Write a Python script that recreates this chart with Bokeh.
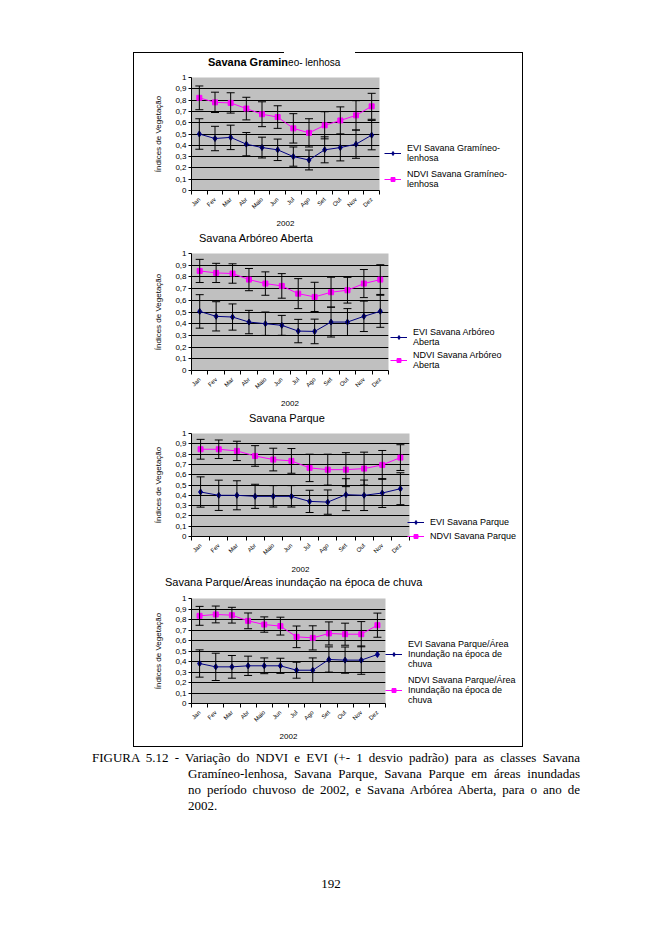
import math
from bokeh.plotting import figure
from bokeh.models import (ColumnDataSource, Whisker, TeeHead, FixedTicker, Legend,
                          LegendItem, Div, Range1d)
from bokeh.layouts import column
from bokeh.embed import file_html
from bokeh.resources import INLINE

months = ["Jan", "Fev", "Mar", "Abr", "Maio", "Jun", "Jul", "Ago", "Set", "Out", "Nov", "Dez"]
y_ticks = [0, 0.1, 0.2, 0.3, 0.4, 0.5, 0.6, 0.7, 0.8, 0.9, 1]
y_tick_labels = ["0", "0,1", "0,2", "0,3", "0,4", "0,5", "0,6", "0,7", "0,8", "0,9", "1"]
x_title = "2002"
y_title = "Índices de Vegetação"

# Savana Gramíneo-lenhosa
c1_evi = [0.50, 0.46, 0.47, 0.41, 0.38, 0.36, 0.30, 0.27, 0.36, 0.38, 0.41, 0.49]
c1_evi_sd = [0.135, 0.108, 0.108, 0.103, 0.092, 0.095, 0.085, 0.088, 0.115, 0.118, 0.125, 0.13]
c1_ndvi = [0.82, 0.78, 0.775, 0.725, 0.675, 0.65, 0.55, 0.51, 0.577, 0.62, 0.665, 0.745]
c1_ndvi_sd = [0.105, 0.09, 0.09, 0.10, 0.11, 0.10, 0.13, 0.125, 0.12, 0.12, 0.13, 0.115]

# Savana Arbóreo Aberta
c2_evi = [0.505, 0.463, 0.457, 0.414, 0.40, 0.386, 0.337, 0.334, 0.414, 0.414, 0.463, 0.506]
c2_evi_sd = [0.143, 0.125, 0.112, 0.10, 0.10, 0.085, 0.10, 0.105, 0.128, 0.115, 0.13, 0.137]
c2_ndvi = [0.851, 0.834, 0.829, 0.777, 0.743, 0.723, 0.657, 0.629, 0.669, 0.686, 0.743, 0.777]
c2_ndvi_sd = [0.099, 0.082, 0.083, 0.095, 0.10, 0.105, 0.128, 0.125, 0.128, 0.11, 0.12, 0.127]

# Savana Parque
c3_evi = [0.432, 0.40, 0.40, 0.39, 0.39, 0.39, 0.341, 0.334, 0.406, 0.40, 0.422, 0.464]
c3_evi_sd = [0.147, 0.147, 0.141, 0.117, 0.104, 0.104, 0.108, 0.118, 0.155, 0.148, 0.14, 0.155]
c3_ndvi = [0.847, 0.847, 0.831, 0.782, 0.747, 0.734, 0.666, 0.649, 0.649, 0.659, 0.695, 0.766]
c3_ndvi_sd = [0.096, 0.09, 0.094, 0.10, 0.11, 0.12, 0.133, 0.15, 0.165, 0.16, 0.14, 0.125]

# Savana Parque / Áreas inundação na época de chuva
c4_evi = [0.381, 0.349, 0.349, 0.359, 0.359, 0.359, 0.317, 0.317, 0.419, 0.413, 0.413, 0.467]
c4_evi_sd = [0.13, 0.13, 0.108, 0.092, 0.075, 0.072, 0.076, 0.117, 0.12, 0.125, 0.135, None]
c4_ndvi = [0.835, 0.848, 0.841, 0.787, 0.752, 0.737, 0.635, 0.625, 0.667, 0.66, 0.66, 0.746]
c4_ndvi_sd = [0.09, 0.08, 0.075, 0.075, 0.073, 0.085, 0.103, 0.115, 0.11, 0.105, 0.12, 0.115]

FONT = "Liberation Sans"
EVI_COLOR = "#000080"
NDVI_COLOR = "#ff00ff"


def whisker_for(p, xs, ys, sds):
    xx, up, lo = [], [], []
    for x, y, s in zip(xs, ys, sds):
        if s is None:
            continue
        xx.append(x)
        up.append(y + s)
        lo.append(y - s)
    src = ColumnDataSource(dict(x=xx, upper=up, lower=lo))
    w = Whisker(source=src, base="x", upper="upper", lower="lower",
                line_color="black", line_width=1,
                upper_head=TeeHead(size=8, line_color="black", line_width=1),
                lower_head=TeeHead(size=8, line_color="black", line_width=1))
    w.level = "overlay"
    p.add_layout(w)


def make_chart(evi, evi_sd, ndvi, ndvi_sd, evi_label, ndvi_label,
               fw, fh, ml, mr, mt, mb, legend_loc, legend_spacing):
    p = figure(frame_width=fw, frame_height=fh, x_range=Range1d(0, 12), y_range=Range1d(0, 1),
               output_backend="svg", toolbar_location=None,
               min_border_left=ml, min_border_right=mr, min_border_top=mt, min_border_bottom=mb,
               background_fill_color="#c0c0c0", outline_line_color=None,
               border_fill_color=None)
    xs = [i + 0.5 for i in range(len(months))]

    p.xgrid.visible = False
    p.ygrid.ticker = FixedTicker(ticks=y_ticks)
    p.ygrid.grid_line_color = "black"
    p.ygrid.grid_line_width = 1

    ya = p.yaxis[0]
    ya.ticker = FixedTicker(ticks=y_ticks)
    ya.major_label_overrides = {t: l for t, l in zip(y_ticks, y_tick_labels)}
    ya.axis_line_color = "black"
    ya.major_tick_line_color = "black"
    ya.major_tick_out = 3
    ya.major_tick_in = 0
    ya.minor_tick_line_color = None
    ya.major_label_text_font = FONT
    ya.major_label_text_font_size = "8px"
    ya.major_label_text_color = "black"
    ya.major_label_standoff = 2
    ya.axis_label = y_title
    ya.axis_label_text_font = FONT
    ya.axis_label_text_font_size = "8px"
    ya.axis_label_text_font_style = "normal"
    ya.axis_label_text_color = "black"
    ya.axis_label_standoff = 9

    xa = p.xaxis[0]
    xa.ticker = FixedTicker(ticks=xs, minor_ticks=list(range(13)))
    xa.major_label_overrides = {x: m for x, m in zip(xs, months)}
    xa.major_tick_out = 0
    xa.major_tick_in = 0
    xa.minor_tick_out = 4
    xa.minor_tick_in = 0
    xa.minor_tick_line_color = "black"
    xa.axis_line_color = "black"
    xa.major_label_orientation = math.pi / 4
    xa.major_label_text_font = FONT
    xa.major_label_text_font_size = "6px"
    xa.major_label_text_color = "black"
    xa.major_label_standoff = 4
    xa.axis_label = x_title
    xa.axis_label_text_font = FONT
    xa.axis_label_text_font_size = "8px"
    xa.axis_label_text_font_style = "normal"
    xa.axis_label_text_color = "black"
    xa.axis_label_standoff = 6

    l_ndvi = p.line(xs, ndvi, line_color=NDVI_COLOR, line_width=1)
    m_ndvi = p.scatter(xs, ndvi, marker="square", size=5, fill_color=NDVI_COLOR, line_color=NDVI_COLOR)
    l_evi = p.line(xs, evi, line_color=EVI_COLOR, line_width=1)
    m_evi = p.scatter(xs, evi, marker="diamond", size=6, fill_color=EVI_COLOR, line_color=EVI_COLOR)

    whisker_for(p, xs, ndvi, ndvi_sd)
    whisker_for(p, xs, evi, evi_sd)

    legend = Legend(items=[LegendItem(label=evi_label, renderers=[l_evi, m_evi]),
                           LegendItem(label=ndvi_label, renderers=[l_ndvi, m_ndvi])],
                    location=legend_loc, border_line_color=None, background_fill_alpha=0,
                    label_text_font=FONT, label_text_font_size="9px", label_text_color="black",
                    label_text_line_height=1.4,
                    glyph_width=17, glyph_height=10, label_standoff=6, spacing=legend_spacing,
                    padding=0, margin=0, label_height=10)
    p.add_layout(legend, "right")
    return p


def title_div(html, pad, height=17, size="11px"):
    return Div(text=f'<div style="font-family:\'{FONT}\';font-size:{size};'
                    f'line-height:{height}px;padding-left:{pad}px;white-space:nowrap;color:#000">{html}</div>',
               width=388, height=height, margin=0)


top_gap = Div(text="", width=388, height=1, margin=0)

t1 = title_div('<b style="font-size:11px">Savana Gramin</b><span style="font-size:10px">eo- lenhosa</span>',
               75, height=18)
p1 = make_chart(c1_evi, c1_evi_sd, c1_ndvi, c1_ndvi_sd,
                "EVI Savana Gramíneo-\nlenhosa", "NDVI Savana Gramíneo-\nlenhosa",
                188, 113, 52, 148, 6, 40, (5, 1), 6)
t2 = title_div("Savana Arbóreo Aberta", 66)
p2 = make_chart(c2_evi, c2_evi_sd, c2_ndvi, c2_ndvi_sd,
                "EVI Savana Arbóreo\nAberta", "NDVI Savana Arbóreo\nAberta",
                197, 117, 58, 133, 6, 40, (2, 0), 3)
t3 = title_div("Savana Parque", 116)
p3 = make_chart(c3_evi, c3_evi_sd, c3_ndvi, c3_ndvi_sd,
                "EVI Savana Parque", "NDVI Savana Parque",
                218, 103, 52, 118, 6, 37, (-2, -5), 4)
t4 = title_div("Savana Parque/Áreas inundação na época de chuva", 32)
p4 = make_chart(c4_evi, c4_evi_sd, c4_ndvi, c4_ndvi_sd,
                "EVI Savana Parque/Área\nInundação na época de\nchuva",
                "NDVI Savana Parque/Área\nInundação na época de\nchuva",
                194, 105, 53, 141, 7, 42, (0, -2), 6)
bottom_gap = Div(text="", width=388, height=2, margin=0)

# box frame drawn as CSS background lines (top line with a gap under the first title)
box_styles = {
    "background-image": ", ".join([
        "linear-gradient(to right, #000 0px, #000 151px, transparent 151px, transparent 222px, "
        "#000 222px, #000 100%)",
        "linear-gradient(#000, #000)",
        "linear-gradient(#000, #000)",
        "linear-gradient(#000, #000)",
    ]),
    "background-size": "390px 1px, 1px 100%, 1px 100%, 390px 1px",
    "background-position": "0 0, 0 0, 389px 0, 0 100%",
    "background-repeat": "no-repeat",
}
box = column(top_gap, t1, p1, t2, p2, t3, p3, t4, p4, bottom_gap, spacing=0,
             margin=(52, 0, 0, 133), styles=box_styles)

line_style = "font-family:'Liberation Serif';font-size:13px;line-height:16px;color:#000;"
caption = Div(text=(
    f'<div style="{line_style}width:488px;text-align:justify;text-align-last:justify">'
    'FIGURA 5.12 - Variação do NDVI e EVI (+- 1 desvio padrão) para as classes Savana</div>'
    f'<div style="{line_style}width:392px;margin-left:96px;text-align:justify;text-align-last:justify">'
    'Gramíneo-lenhosa, Savana Parque, Savana Parque em áreas inundadas</div>'
    f'<div style="{line_style}width:392px;margin-left:96px;text-align:justify;text-align-last:justify">'
    'no período chuvoso de 2002, e Savana Arbórea Aberta, para o ano de</div>'
    f'<div style="{line_style}width:392px;margin-left:96px;text-align:left">2002.</div>'),
    width=488, height=64, margin=(3, 0, 0, 92))

page_num = Div(text=f'<div style="{line_style}width:494px;text-align:center">192</div>',
               width=494, height=16, margin=(62, 0, 0, 84))

layout = column(box, caption, page_num, spacing=0)

open("out.html", "w").write(file_html(layout, INLINE))
